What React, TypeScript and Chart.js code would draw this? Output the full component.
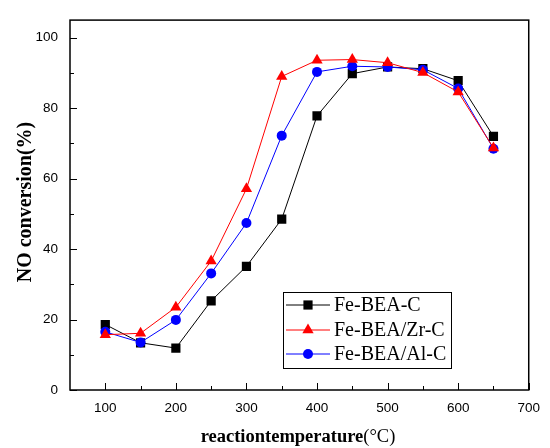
import React, { useEffect, useRef } from "react";
import { Chart, registerables } from "chart.js";

Chart.register(...registerables);

const temperatures = [100, 150, 200, 250, 300, 350, 400, 450, 500, 550, 600, 650];
const feBeaC = [18.6, 13.4, 11.9, 25.3, 35.1, 48.5, 77.8, 89.8, 91.7, 91.2, 87.8, 72.0];
const feBeaZrC = [15.7, 16.1, 23.5, 36.6, 57.1, 89.0, 93.6, 93.8, 92.9, 90.1, 84.6, 68.7];
const feBeaAlC = [16.5, 13.5, 19.9, 33.1, 47.4, 72.2, 90.3, 91.9, 91.7, 90.9, 85.6, 68.5];
const seriesNames = ["Fe-BEA-C", "Fe-BEA/Zr-C", "Fe-BEA/Al-C"];
const xMajorTicks = [100, 200, 300, 400, 500, 600, 700];
const xMinorTicks = [150, 250, 350, 450, 550, 650];
const yMajorTicks = [0, 20, 40, 60, 80, 100];
const yMinorTicks = [10, 30, 50, 70, 90];
const xTitleBold = "reactiontemperature";
const xTitleUnit = "(°C)";
const yTitle = "NO conversion(%)";

function drawMarker(ctx: CanvasRenderingContext2D, style: string, r: number, x: number, y: number) {
  ctx.beginPath();
  if (style === "rect") {
    const s = Math.SQRT1_2 * r;
    ctx.rect(x - s, y - s, 2 * s, 2 * s);
  } else if (style === "triangle") {
    let rad = 0;
    ctx.moveTo(x + Math.sin(rad) * r, y - Math.cos(rad) * r);
    rad += (2 * Math.PI) / 3;
    ctx.lineTo(x + Math.sin(rad) * r, y - Math.cos(rad) * r);
    rad += (2 * Math.PI) / 3;
    ctx.lineTo(x + Math.sin(rad) * r, y - Math.cos(rad) * r);
    ctx.closePath();
  } else {
    ctx.arc(x, y, r, 0, Math.PI * 2);
  }
  ctx.fill();
}

const framePlugin = {
  id: "frame",
  afterDatasetsDraw(chart: any) {
    const { ctx, chartArea } = chart;
    const xs = chart.scales.x;
    const ys = chart.scales.y;
    ctx.save();
    ctx.strokeStyle = "#000";
    ctx.lineWidth = 1.5;
    ctx.strokeRect(chartArea.left, chartArea.top, chartArea.right - chartArea.left, chartArea.bottom - chartArea.top);
    ctx.lineWidth = 1;
    ctx.beginPath();
    xMajorTicks.forEach((v) => {
      const px = Math.round(xs.getPixelForValue(v)) + 0.5;
      ctx.moveTo(px, chartArea.bottom);
      ctx.lineTo(px, chartArea.bottom - 7);
    });
    xMinorTicks.forEach((v) => {
      const px = Math.round(xs.getPixelForValue(v)) + 0.5;
      ctx.moveTo(px, chartArea.bottom);
      ctx.lineTo(px, chartArea.bottom - 4);
    });
    yMajorTicks.forEach((v) => {
      const py = Math.round(ys.getPixelForValue(v)) + 0.5;
      ctx.moveTo(chartArea.left, py);
      ctx.lineTo(chartArea.left + 7, py);
    });
    yMinorTicks.forEach((v) => {
      const py = Math.round(ys.getPixelForValue(v)) + 0.5;
      ctx.moveTo(chartArea.left, py);
      ctx.lineTo(chartArea.left + 4, py);
    });
    ctx.stroke();

    ctx.fillStyle = "#000";
    ctx.textBaseline = "alphabetic";
    const boldFont = "bold 18.5px 'Liberation Serif'";
    const normFont = "18.5px 'Liberation Serif'";
    ctx.font = boldFont;
    const w1 = ctx.measureText(xTitleBold).width;
    ctx.font = normFont;
    const w2 = ctx.measureText(xTitleUnit).width;
    const cx = 298;
    const sx = cx - (w1 + w2) / 2;
    ctx.font = boldFont;
    ctx.textAlign = "left";
    ctx.fillText(xTitleBold, sx, 442);
    ctx.font = normFont;
    ctx.fillText(xTitleUnit, sx + w1, 442);

    ctx.save();
    ctx.translate(31, 202);
    ctx.rotate(-Math.PI / 2);
    ctx.font = "bold 20px 'Liberation Serif'";
    ctx.textAlign = "center";
    ctx.fillText(yTitle, 0, 0);
    ctx.restore();

    const lx = 283, ly = 292, lw = 168, lh = 76;
    ctx.fillStyle = "#fff";
    ctx.fillRect(lx, ly, lw, lh);
    ctx.strokeStyle = "#000";
    ctx.lineWidth = 1;
    ctx.strokeRect(lx + 0.5, ly + 0.5, lw, lh);
    const rows = [305, 330, 354];
    [0, 1, 2].forEach((i) => {
      const ds = chart.data.datasets[i];
      const y = rows[i];
      ctx.strokeStyle = ds.borderColor;
      ctx.lineWidth = 1;
      ctx.beginPath();
      ctx.moveTo(lx + 3, y);
      ctx.lineTo(lx + 47, y);
      ctx.stroke();
      ctx.fillStyle = ds.pointBackgroundColor;
      drawMarker(ctx, ds.pointStyle, ds.pointRadius, lx + 25, y);
      ctx.fillStyle = "#000";
      ctx.font = "20px 'Liberation Serif'";
      ctx.textAlign = "left";
      ctx.textBaseline = "middle";
      ctx.fillText(seriesNames[i], lx + 51, y + 1);
    });
    ctx.restore();
  },
};

export default function App() {
  const ref = useRef<HTMLCanvasElement | null>(null);
  useEffect(() => {
    if (!ref.current) return;
    const mk = (label: string, data: number[], color: string, style: string, r: number, order: number) => ({
      label,
      data: temperatures.map((t, i) => ({ x: t, y: data[i] })),
      borderColor: color,
      backgroundColor: color,
      pointBackgroundColor: color,
      pointBorderColor: color,
      pointBorderWidth: 0,
      pointStyle: style,
      pointRadius: r,
      borderWidth: 1,
      tension: 0,
      order,
    });
    const chart = new Chart(ref.current, {
      type: "line",
      data: {
        datasets: [
          mk(seriesNames[0], feBeaC, "#000000", "rect", 6.5, 3),
          mk(seriesNames[1], feBeaZrC, "#ff0000", "triangle", 6.5, 1),
          mk(seriesNames[2], feBeaAlC, "#0000ff", "circle", 5, 2),
        ] as any,
      },
      options: {
        animation: false,
        responsive: false,
        layout: { padding: { top: 12, right: 13, left: 0, bottom: 0 } },
        plugins: { legend: { display: false }, tooltip: { enabled: false } },
        scales: {
          x: {
            type: "linear",
            min: 50,
            max: 700,
            afterBuildTicks: (s: any) => {
              s.ticks = xMajorTicks.map((v) => ({ value: v }));
            },
            afterFit: (s: any) => {
              s.height = 58;
            },
            grid: { display: false, drawTicks: false },
            border: { display: false },
            ticks: {
              padding: 10,
              color: "#000",
              font: { family: "'Liberation Sans'", size: 13.5 },
              maxRotation: 0,
            },
          },
          y: {
            type: "linear",
            min: 0,
            max: 105,
            afterBuildTicks: (s: any) => {
              s.ticks = yMajorTicks.map((v) => ({ value: v }));
            },
            afterFit: (s: any) => {
              s.width = 70;
            },
            grid: { display: false, drawTicks: false },
            border: { display: false },
            ticks: {
              padding: 12,
              color: "#000",
              font: { family: "'Liberation Sans'", size: 13.5 },
            },
          },
        },
      } as any,
      plugins: [framePlugin],
    });
    return () => chart.destroy();
  }, []);
  return (
    <div style={{ position: "absolute", left: 0, top: 0, width: 550, height: 448, background: "#fff" }}>
      <canvas ref={ref} width={550} height={448} style={{ width: 550, height: 448 }} />
    </div>
  );
}
